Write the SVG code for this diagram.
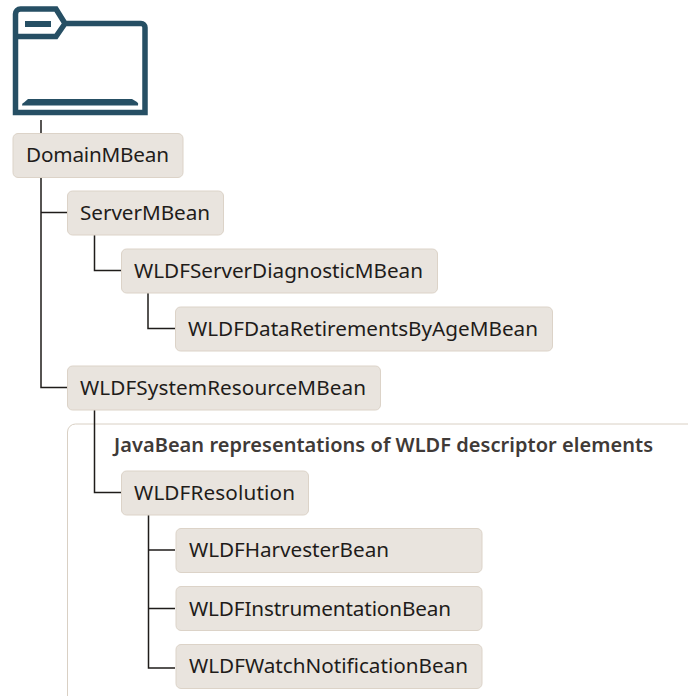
<svg xmlns="http://www.w3.org/2000/svg" width="688" height="696" viewBox="0 0 688 696">
<style>
.n{fill:#e9e4de;stroke:#dcd3c8;stroke-width:1}
.t{font-family:"Noto Sans","Open Sans",sans-serif;font-size:20.700px;fill:#1f1c1a}
.c{fill:none;stroke:#1f1c1a;stroke-width:1.5}
</style>
<rect width="688" height="696" fill="#fff"/>
<g id="container"><path d="M67.500 696V432a8 8 0 0 1 8-8H688" fill="none" stroke="#d9d0c4" stroke-width="1"/>
<text x="114" y="452" textLength="539" style="font-family:'Noto Sans','Open Sans',sans-serif;font-size:20px;font-weight:600;fill:#3f3a37">JavaBean representations of WLDF descriptor elements</text></g>
<g id="folder"><path d="M15.500 112.500V14a5 5 0 0 1 5-5H56l9 14.500H141a4 4 0 0 1 4 4V112.500ZM15.500 36.500H56L65 23.500" fill="none" stroke="#264f64" stroke-width="5.500"/>
<rect x="25" y="21" width="26" height="6" fill="#264f64"/>
<path d="M22 105.500a3 3 0 0 1 2-3L28 99H132L137 102a3 3 0 0 1 1 3.500Z" fill="#264f64"/></g>
<g id="connectors">
<path class="c" d="M41 120V133"/>
<path class="c" d="M41 177V387.500H67M41 212.500H67"/>
<path class="c" d="M94.500 235V270.500H121"/>
<path class="c" d="M148 293V328.500H175"/>
<path class="c" d="M94.500 410V492.500H121"/>
<path class="c" d="M148.500 515V668H175M148.500 550H175M148.500 608.500H175"/>
</g>
<g id="DomainMBean"><rect class="n" x="13" y="133.500" width="170" height="44" rx="5"/><text class="t" x="26" y="162" textLength="143">DomainMBean</text></g>
<g id="ServerMBean"><rect class="n" x="67.500" y="191" width="156" height="44" rx="5"/><text class="t" x="80" y="219.500" textLength="130">ServerMBean</text></g>
<g id="WLDFServerDiagnosticMBean"><rect class="n" x="121.500" y="249" width="316" height="44" rx="5"/><text class="t" x="134" y="277.500" textLength="289">WLDFServerDiagnosticMBean</text></g>
<g id="WLDFDataRetirementsByAgeMBean"><rect class="n" x="175.500" y="307" width="377" height="44" rx="5"/><text class="t" x="188" y="335.500" textLength="350">WLDFDataRetirementsByAgeMBean</text></g>
<g id="WLDFSystemResourceMBean"><rect class="n" x="67.500" y="366" width="313" height="44" rx="5"/><text class="t" x="80" y="394.500" textLength="286">WLDFSystemResourceMBean</text></g>
<g id="WLDFResolution"><rect class="n" x="121.500" y="471" width="187" height="44" rx="5"/><text class="t" x="134" y="499.500" textLength="161">WLDFResolution</text></g>
<g id="WLDFHarvesterBean"><rect class="n" x="176" y="528.500" width="306" height="44" rx="5"/><text class="t" x="189" y="557" textLength="200">WLDFHarvesterBean</text></g>
<g id="WLDFInstrumentationBean"><rect class="n" x="176" y="586.500" width="306" height="44" rx="5"/><text class="t" x="189" y="615.500" textLength="262">WLDFInstrumentationBean</text></g>
<g id="WLDFWatchNotificationBean"><rect class="n" x="176" y="644.500" width="306" height="44" rx="5"/><text class="t" x="189" y="673" textLength="279">WLDFWatchNotificationBean</text></g>
</svg>
